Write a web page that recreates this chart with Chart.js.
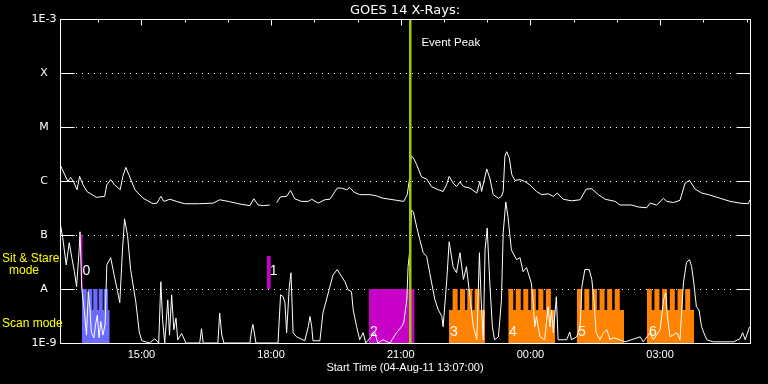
<!DOCTYPE html>
<html>
<head>
<meta charset="utf-8">
<script src="https://cdn.jsdelivr.net/npm/chart.js@4.4.1/dist/chart.umd.min.js"></script>
<style>
  html, body { margin: 0; padding: 0; background: #000; }
  #wrap { width: 768px; height: 384px; }
</style>
</head>
<body>
<div id="wrap"><canvas id="xrays" width="768" height="384"></canvas></div>
<script>
// axis range, hours since 04-Aug-11 00:00
const startHour = 13 + 7 / 60;
const endHour = 29.08;
const eventPeak = 21.223;

const fluxDecades = [1e-9, 1e-8, 1e-7, 1e-6, 1e-5, 1e-4, 1e-3];
const fluxLabels = ["1E-9", "A", "B", "C", "M", "X", "1E-3"];
const gridDecades = [1e-8, 1e-7, 1e-6, 1e-5, 1e-4];
const hourTicks = [14, 15, 16, 17, 18, 19, 20, 21, 22, 23, 24, 25, 26, 27, 28, 29];
const labelHours = [15, 18, 21, 24, 27];

// long channel (upper trace)
const longTimes = [
    13.12, 13.30, 13.36, 13.43, 13.51, 13.57, 13.65, 13.74, 13.96, 14.15, 14.20, 14.29, 14.38, 14.51,
    14.57, 14.64, 14.71, 14.85, 15.04, 15.27, 15.36, 15.45, 15.52, 15.66, 15.81, 16.00, 16.35, 16.66,
    16.81, 17.01, 17.28, 17.51, 17.60, 17.70, 17.82, 17.97, 18.05, 18.13, 18.22, 18.36, 18.45, 18.55,
    18.70, 18.86, 18.94, 19.09, 19.24, 19.36, 19.53, 19.63, 19.75, 19.82, 19.92, 20.05, 20.29, 20.44,
    20.59, 20.75, 20.90, 21.07, 21.15, 21.20, 21.24, 21.29, 21.37, 21.48, 21.60, 21.71, 21.87, 21.98,
    22.06, 22.12, 22.21, 22.29, 22.37, 22.45, 22.60, 22.76, 22.83, 22.87, 22.99, 23.06, 23.14, 23.26,
    23.33, 23.37, 23.41, 23.45, 23.51, 23.57, 23.64, 23.76, 23.87, 23.99, 24.14, 24.26, 24.41, 24.53,
    24.62, 24.76, 24.95, 25.15, 25.29, 25.42, 25.57, 25.73, 25.96, 26.07, 26.34, 26.50, 26.69, 26.77,
    26.92, 27.08, 27.15, 27.31, 27.46, 27.58, 27.68, 27.81, 27.96, 28.12, 28.39, 28.62, 28.85, 29.04,
    29.08,
];
const longFlux = [
    2.0e-6, 9.8e-7, 1.17e-6, 9.8e-7, 6.9e-7, 1.22e-6, 8.5e-7, 6.4e-7, 5.0e-7, 5.2e-7, 8.5e-7, 1.06e-6, 8.5e-7, 6.9e-7,
    1.22e-6, 1.79e-6, 1.31e-6, 6.9e-7, 4.8e-7, 3.8e-7, 3.9e-7, 5.2e-7, 4.2e-7, 4.6e-7, 4.2e-7, 3.8e-7, 3.8e-7, 3.9e-7,
    4.5e-7, 4.2e-7, 3.75e-7, 3.5e-7, 4.7e-7, 3.6e-7, 3.5e-7, 3.6e-7, null, 4.0e-7, 5.1e-7, 5.2e-7, 6.7e-7, 4.7e-7,
    4.2e-7, 4.2e-7, 4.6e-7, 3.9e-7, 4.5e-7, 4.6e-7, 7.4e-7, 7.4e-7, 6.9e-7, 7.6e-7, 6.2e-7, 5.6e-7, 5.6e-7, 5.3e-7,
    4.8e-7, 4.6e-7, 4.4e-7, 4.2e-7, 5.6e-7, 1.06e-6, 2.9e-6, 2.7e-6, 2.0e-6, 1.19e-6, 1.09e-6, 7.9e-7, 6.9e-7, 6.4e-7,
    8.5e-7, 1.22e-6, 9.2e-7, 7.9e-7, 9.6e-7, 7.9e-7, 7.4e-7, 6.0e-7, 9.8e-7, 6.4e-7, 1.67e-6, 1.14e-6, 5.6e-7, 4.8e-7,
    5.2e-7, 6.4e-7, 2.9e-6, 3.5e-6, 2.7e-6, 1.31e-6, 1.03e-6, 1.06e-6, 9.8e-7, 8.5e-7, 6.4e-7, 5.6e-7, 5.8e-7, 5.2e-7,
    6.0e-7, 4.6e-7, 4.3e-7, 4.5e-7, 7.1e-7, 7.2e-7, 5.6e-7, 4.6e-7, 4.2e-7, 3.6e-7, 3.6e-7, 3.3e-7, 3.2e-7, 3.9e-7,
    3.6e-7, 4.8e-7, 4.2e-7, 4.0e-7, 4.4e-7, 9.2e-7, 1.03e-6, 7.1e-7, 6.0e-7, 5.6e-7, 4.8e-7, 4.2e-7, 3.9e-7, 3.8e-7,
    4.5e-7,
];

// short channel (lower trace)
const shortTimes = [
    13.12, 13.18, 13.26, 13.33, 13.39, 13.45, 13.50, 13.56, 13.58, 13.62, 13.68, 13.73, 13.77, 13.81, 13.84,
    13.90, 13.94, 13.98, 14.02, 14.06, 14.11, 14.16, 14.20, 14.29, 14.37, 14.45, 14.50, 14.56, 14.61, 14.68,
    14.75, 14.87, 14.95, 15.01, 15.19, 15.31, 15.40, 15.45, 15.49, 15.54, 15.61, 15.65, 15.70, 15.75, 15.80,
    15.84, 15.93, 16.03, 16.35, 16.39, 16.43, 16.77, 16.81, 16.86, 16.91, 17.51, 17.55, 17.58, 17.65, 18.16,
    18.22, 18.28, 18.32, 18.36, 18.42, 18.46, 18.51, 18.59, 18.78, 18.86, 18.90, 18.94, 18.97, 19.13, 19.20,
    19.36, 19.43, 19.53, 19.63, 19.71, 19.78, 19.86, 19.90, 19.98, 20.05, 20.13, 20.19, 20.40, 20.47, 20.59,
    20.75, 20.90, 21.02, 21.07, 21.14, 21.17, 21.21, 21.25, 21.29, 21.37, 21.44, 21.52, 21.60, 21.67, 21.79,
    21.87, 21.95, 21.98, 22.06, 22.12, 22.21, 22.29, 22.37, 22.45, 22.52, 22.60, 22.68, 22.76, 22.82, 22.86,
    22.91, 22.95, 23.00, 23.06, 23.12, 23.17, 23.26, 23.33, 23.37, 23.43, 23.48, 23.56, 23.68, 23.76, 23.83,
    23.91, 24.02, 24.06, 24.10, 24.14, 24.22, 24.33, 24.41, 24.45, 24.49, 24.53, 24.60, 24.64, 24.84, 24.91,
    24.95, 25.07, 25.15, 25.19, 25.26, 25.36, 25.42, 25.47, 25.52, 25.61, 25.69, 25.77, 25.84, 25.92, 26.07,
    26.19, 26.54, 26.61, 26.77, 26.84, 27.00, 27.08, 27.13, 27.17, 27.23, 27.39, 27.46, 27.54, 27.61, 27.68,
    27.73, 27.78, 27.84, 27.90, 27.96, 28.01, 28.08, 28.23, 28.70, 28.85, 28.91, 28.97, 29.07,
];
const shortFlux = [
    1.67e-7, 8.9e-8, 2.8e-8, 7.2e-8, 3.8e-8, 2.1e-8, 1.1e-8, 5.3e-8, 1.15e-7, 1.05e-8, 3.8e-9, 1.4e-9, 8.9e-9, 4.5e-9, 1.6e-9,
    1.25e-9, 2.2e-9, 3.3e-9, 1.25e-9, 2.5e-9, 1.4e-9, 2.2e-9, 2.8e-8, 3.8e-8, 1.8e-8, 8.9e-9, 5.6e-9, 4.9e-8, 2.0e-7, 9.7e-8,
    2.3e-8, 5.8e-9, 1.6e-9, 1.1e-9, 1.0e-9, 1.2e-9, 1.0e-9, 1.36e-8, 2.7e-9, 1.0e-9, 6.3e-9, 1.4e-9, 7.8e-9, 1.76e-9, 2.9e-9,
    1.15e-9, 1.5e-9, 1.0e-9, 1.0e-9, 1.84e-9, 1.0e-9, 1.0e-9, 3.6e-9, 1.4e-9, 1.0e-9, 1.0e-9, 1.76e-9, 2.2e-9, 1.0e-9, 1.0e-9,
    7.8e-9, 7.2e-9, 5.6e-9, 1.55e-9, 1.05e-8, 2.0e-8, 1.55e-9, 1.3e-9, 1.1e-9, 2.0e-9, 3.1e-9, 2.0e-9, 1.1e-9, 1.1e-9, 3.6e-9,
    1.1e-8, 1.8e-8, 2.3e-8, 1.7e-8, 1.36e-8, 9.7e-9, 8.9e-9, 4.1e-9, 2.0e-9, 1.15e-9, 1.55e-9, 1.0e-9, 1.55e-9, 1.0e-9, 1.15e-9,
    1.0e-9, 1.55e-9, 2.0e-9, 2.4e-9, 6.3e-9, 2.6e-8, 5.3e-8, 2.9e-7, 2.7e-7, 1.4e-7, 8.2e-8, 4.7e-8, 4.0e-8, 2.0e-8, 6.3e-9,
    4.1e-9, 3.1e-9, 2.0e-9, 1.3e-8, 7.5e-8, 2.6e-8, 2.0e-8, 4.7e-8, 1.5e-8, 2.6e-8, 7.2e-9, 2.0e-9, 1.15e-9, 4.7e-8, 6.3e-9,
    1.15e-9, 5.3e-8, 1.35e-7, 1.3e-8, 2.0e-9, 1.15e-9, 1.3e-9, 6.3e-9, 1.1e-7, 4.1e-7, 2.2e-7, 5.3e-8, 3.5e-8, 3.8e-8, 2.1e-8,
    2.5e-8, 1.3e-8, 6.3e-9, 2.0e-9, 3.1e-9, 1.3e-9, 1.15e-9, 4.7e-9, 2.0e-9, 4.1e-9, 1.55e-9, 7.2e-9, 1.15e-9, 1.15e-9, 1.6e-9,
    1.15e-9, 1.3e-9, 2.0e-9, 1.1e-8, 2.3e-8, 2.3e-8, 1.5e-8, 6.3e-9, 1.55e-9, 1.15e-9, 1.55e-9, 1.76e-9, 1.15e-9, 1.25e-9, 1.15e-9,
    1.05e-9, 1.3e-9, 1.05e-9, 1.55e-9, 1.15e-9, 1.76e-9, 6.3e-9, 8.5e-9, 3.1e-9, 1.3e-9, 1.55e-9, 1.15e-9, 1.3e-8, 3.1e-8, 3.5e-8,
    2.6e-8, 1.3e-8, 4.7e-9, 4.1e-9, 2.0e-9, 1.55e-9, 1.15e-9, 1.05e-9, 1.05e-9, 1.2e-9, 1.55e-9, 1.15e-9, 2.0e-9,
];

// scan mode blocks (0, 3, 4, 5, 6)
const scanBase = 4.1e-9;
const scanTop = 1e-8;
const scanStarts = [13.619, 22.115, 23.487, 25.071, 26.691];
const scanEnds = [14.267, 22.948, 24.568, 26.166, 27.786];
const scanTeeth = [
    [[13.619, 13.735], [13.758, 13.862], [13.885, 13.985], [14.013, 14.105], [14.129, 14.225]],
    [[22.200, 22.316], [22.370, 22.486], [22.540, 22.656], [22.710, 22.826]],
    [[23.487, 23.603], [23.661, 23.777], [23.835, 23.951], [24.009, 24.125], [24.183, 24.299], [24.357, 24.473]],
    [[25.071, 25.187], [25.247, 25.363], [25.423, 25.539], [25.599, 25.715], [25.775, 25.891], [25.951, 26.067]],
    [[26.691, 26.807], [26.869, 26.985], [27.047, 27.163], [27.225, 27.341], [27.403, 27.519], [27.581, 27.697]],
];

// sit & stare blocks (0, 1) and the long stare (2)
const stareStarts = [13.596, 17.902];
const stareEnds = [13.642, 17.994];
const stareTops = [1e-7, 4.1e-8];
const stareFloor = 1e-8;
const longStare = [20.263, 21.321];

const modeLabels = ["0", "1", "2", "3", "4", "5", "6"];
const modeLabelTimes = [13.635, 17.971, 20.286, 22.138, 23.503, 25.101, 26.745];
const modeLabelFlux = [2.1e-8, 2.1e-8, 1.6e-9, 1.6e-9, 1.6e-9, 1.6e-9, 1.6e-9];

const scanColors = ["#6b6bff", "#ff8200", "#ff8200", "#ff8200", "#ff8200"];
const stareColor = "#c800c8";
const peakColor = "#9acd00";

function toPoints(xs, ys) {
    return xs.map((x, i) => ({ x, y: ys[i] }));
}

// outline of one comb-shaped scan block, vertical edges as explicit points
function scanPath(i) {
    const pts = [{ x: scanStarts[i], y: scanBase }];
    scanTeeth[i].forEach(([a, b]) => {
        pts.push({ x: a, y: scanBase }, { x: a, y: scanTop }, { x: b, y: scanTop }, { x: b, y: scanBase });
    });
    pts.push({ x: scanEnds[i], y: scanBase });
    return pts;
}

function hourLabel(h) {
    const hh = ((h % 24) + 24) % 24;
    return `${String(hh).padStart(2, "0")}:00`;
}

const datasets = [
    {
        data: toPoints(longTimes, longFlux),
        borderColor: "#ffffff", borderWidth: 1, pointRadius: 0, order: 0,
    },
    {
        data: toPoints(shortTimes, shortFlux),
        borderColor: "#ffffff", borderWidth: 1, pointRadius: 0, order: 0,
    },
];

scanStarts.forEach((_, i) => {
    datasets.push({
        data: scanPath(i),
        fill: "start",
        backgroundColor: scanColors[i], borderColor: "rgba(0,0,0,0)",
        borderWidth: 1, pointRadius: 0, order: 2,
    });
});

stareStarts.forEach((_, i) => {
    datasets.push({
        data: [{ x: stareStarts[i], y: stareTops[i] }, { x: stareEnds[i], y: stareTops[i] }],
        fill: { value: stareFloor },
        backgroundColor: stareColor, borderColor: "rgba(0,0,0,0)",
        borderWidth: 1, pointRadius: 0, order: 2,
    });
});

datasets.push({
    data: [{ x: longStare[0], y: stareFloor }, { x: longStare[1], y: stareFloor }],
    fill: "start",
    backgroundColor: stareColor, borderColor: "rgba(0,0,0,0)",
    borderWidth: 1, pointRadius: 0, order: 2,
});

const goesFrame = {
    id: "goesFrame",
    beforeDraw(chart) {
        const ctx = chart.ctx;
        ctx.save();
        ctx.fillStyle = "#000";
        ctx.fillRect(0, 0, chart.width, chart.height);
        ctx.restore();
    },
    beforeDatasetsDraw(chart) {
        const { ctx, chartArea: area, scales: { y } } = chart;
        ctx.save();
        ctx.strokeStyle = "#fff";
        ctx.lineWidth = 1;
        ctx.setLineDash([1, 5]);
        gridDecades.forEach((v) => {
            const py = Math.round(y.getPixelForValue(v)) + 0.5;
            ctx.beginPath();
            ctx.moveTo(area.left + 16, py);
            ctx.lineTo(area.right - 16, py);
            ctx.stroke();
        });
        ctx.restore();
    },
    afterDatasetsDraw(chart) {
        const { ctx, chartArea: area, scales: { x, y } } = chart;
        ctx.save();

        // event peak marker
        const ex = x.getPixelForValue(eventPeak);
        ctx.fillStyle = peakColor;
        ctx.fillRect(Math.round(ex) - 1, area.top, 2.5, area.bottom - area.top);

        // mode numbers
        ctx.fillStyle = "#fff";
        ctx.font = '14px "Liberation Sans"';
        ctx.textAlign = "left";
        ctx.textBaseline = "middle";
        modeLabels.forEach((t, i) => {
            ctx.fillText(t, x.getPixelForValue(modeLabelTimes[i]), y.getPixelForValue(modeLabelFlux[i]));
        });

        ctx.font = '11.5px "Liberation Sans"';
        ctx.fillText("Event Peak", ex + 11, area.top + 24);

        // frame
        const l = Math.round(area.left) + 0.5;
        const r = Math.round(area.right) + 0.5;
        const t = Math.round(area.top) + 0.5;
        const b = Math.round(area.bottom) + 0.5;
        ctx.strokeStyle = "#fff";
        ctx.lineWidth = 1;
        ctx.strokeRect(l, t, r - l, b - t);

        ctx.beginPath();
        gridDecades.forEach((v) => {
            const py = Math.round(y.getPixelForValue(v)) + 0.5;
            ctx.moveTo(l, py);
            ctx.lineTo(l + 14, py);
            ctx.moveTo(r - 14, py);
            ctx.lineTo(r, py);
        });
        hourTicks.forEach((h) => {
            const px = Math.round(x.getPixelForValue(h)) + 0.5;
            const len = h % 3 === 0 ? 6 : 3;
            ctx.moveTo(px, t);
            ctx.lineTo(px, t + len);
        });
        ctx.stroke();

        // mode captions on the left
        ctx.fillStyle = "#ffff00";
        ctx.font = '12px "Liberation Sans"';
        ctx.textAlign = "left";
        ctx.fillText("Sit & Stare", 2, 259);
        ctx.textAlign = "center";
        ctx.fillText("mode", 24, 271);
        ctx.textAlign = "left";
        ctx.fillText("Scan mode", 2, 324);
        ctx.restore();
    },
};

new Chart(document.getElementById("xrays"), {
    type: "line",
    data: { datasets },
    plugins: [goesFrame],
    options: {
        responsive: false,
        animation: false,
        events: [],
        layout: { padding: { left: 0, right: 18, top: 0, bottom: 0 } },
        elements: { line: { tension: 0 } },
        plugins: {
            legend: { display: false },
            tooltip: { enabled: false },
            title: {
                display: true,
                text: "GOES 14 X-Rays:",
                color: "#fff",
                fullSize: false,
                font: { family: "DejaVu Sans", size: 13, weight: "normal", lineHeight: 1.2 },
                padding: { top: 2.5, bottom: 1 },
            },
        },
        scales: {
            x: {
                type: "linear",
                min: startHour,
                max: endHour,
                afterBuildTicks: (scale) => { scale.ticks = labelHours.map((v) => ({ value: v })); },
                afterFit: (scale) => { scale.height = 41; },
                grid: { display: false, drawTicks: false },
                border: { display: false },
                ticks: {
                    color: "#fff",
                    autoSkip: false,
                    maxRotation: 0,
                    padding: 5,
                    font: { family: "Liberation Sans", size: 11 },
                    callback: (v) => hourLabel(v),
                },
                title: {
                    display: true,
                    text: "Start Time (04-Aug-11 13:07:00)",
                    color: "#fff",
                    font: { family: "Liberation Sans", size: 11 },
                    padding: { top: 0, bottom: 9 },
                },
            },
            y: {
                type: "logarithmic",
                min: 1e-9,
                max: 1e-3,
                afterBuildTicks: (scale) => { scale.ticks = fluxDecades.map((v) => ({ value: v })); },
                afterFit: (scale) => { scale.width = 60; },
                grid: { display: false, drawTicks: false },
                border: { display: false },
                ticks: {
                    color: "#fff",
                    autoSkip: false,
                    crossAlign: "center",
                    padding: 3.5,
                    font: { family: "DejaVu Sans", size: 11 },
                    callback: (v, i) => fluxLabels[i],
                },
            },
        },
    },
});
</script>
</body>
</html>
